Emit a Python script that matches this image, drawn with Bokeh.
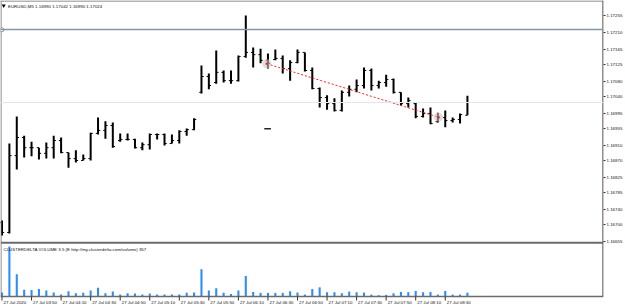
from bokeh.plotting import figure
from bokeh.models import Range1d, FixedTicker, Span, Label, PrintfTickFormatter
from bokeh.embed import file_html
from bokeh.resources import INLINE
from bokeh.core.properties import value

FONT = "Liberation Sans"
FS = "4.4px"

# ---- data (EURUSD M5, 27 Jul 2020, 03:30 .. 08:45) ----
bar_index = list(range(64))
opens = [1.16705, 1.16679, 1.16883, 1.16931, 1.16904, 1.16904, 1.16889, 1.16904, 1.16923, 1.16891,
         1.16875, 1.16870, 1.16875, 1.16942, 1.16950, 1.16963, 1.16923, 1.16926, 1.16926, 1.16904,
         1.16912, 1.16939, 1.16939, 1.16915, 1.16923, 1.16947, 1.16952, 1.17051, 1.17093, 1.17077,
         1.17104, 1.17082, 1.17082, 1.17146, 1.17157, 1.17151, 1.17136, 1.17138, 1.17141, 1.17114,
         1.17130, 1.17157, 1.17109, 1.17061, 1.17037, 1.17021, 1.17003, 1.17051, 1.17059, 1.17069,
         1.17109, 1.17069, 1.17077, 1.17085, 1.17051, 1.17021, 1.17021, 1.16987, 1.16995, 1.16973,
         1.16984, 1.16976, 1.16979, 1.16990]
highs = [1.16711, 1.16915, 1.16987, 1.16936, 1.16920, 1.16904, 1.16918, 1.16936, 1.16931, 1.16891,
         1.16897, 1.16886, 1.16944, 1.16984, 1.16974, 1.16971, 1.16942, 1.16942, 1.16928, 1.16918,
         1.16942, 1.16942, 1.16942, 1.16939, 1.16950, 1.16955, 1.16982, 1.17122, 1.17101, 1.17162,
         1.17109, 1.17109, 1.17149, 1.17255, 1.17170, 1.17167, 1.17154, 1.17165, 1.17149, 1.17136,
         1.17165, 1.17157, 1.17117, 1.17064, 1.17043, 1.17035, 1.17056, 1.17069, 1.17085, 1.17117,
         1.17114, 1.17082, 1.17098, 1.17088, 1.17051, 1.17037, 1.17024, 1.17008, 1.17011, 1.16997,
         1.17003, 1.16984, 1.16995, 1.17042]
lows = [1.16671, 1.16676, 1.16846, 1.16878, 1.16881, 1.16873, 1.16875, 1.16875, 1.16889, 1.16851,
        1.16865, 1.16870, 1.16870, 1.16939, 1.16928, 1.16904, 1.16920, 1.16923, 1.16902, 1.16897,
        1.16899, 1.16926, 1.16910, 1.16915, 1.16915, 1.16936, 1.16950, 1.17048, 1.17059, 1.17074,
        1.17077, 1.17074, 1.17080, 1.17143, 1.17117, 1.17128, 1.17114, 1.17136, 1.17101, 1.17082,
        1.17128, 1.17106, 1.17059, 1.17011, 1.17005, 1.17000, 1.17000, 1.17040, 1.17051, 1.17061,
        1.17056, 1.17061, 1.17066, 1.17048, 1.17016, 1.17011, 1.16982, 1.16984, 1.16966, 1.16971,
        1.16958, 1.16971, 1.16968, 1.16990]
closes = [1.16679, 1.16883, 1.16931, 1.16904, 1.16904, 1.16889, 1.16904, 1.16923, 1.16891, 1.16875,
          1.16870, 1.16875, 1.16942, 1.16950, 1.16963, 1.16907, 1.16926, 1.16926, 1.16904, 1.16912,
          1.16939, 1.16939, 1.16915, 1.16923, 1.16947, 1.16952, 1.16979, 1.17093, 1.17069, 1.17104,
          1.17082, 1.17082, 1.17146, 1.17157, 1.17151, 1.17136, 1.17128, 1.17141, 1.17114, 1.17130,
          1.17157, 1.17109, 1.17061, 1.17037, 1.17021, 1.17003, 1.17051, 1.17059, 1.17069, 1.17109,
          1.17069, 1.17077, 1.17085, 1.17051, 1.17021, 1.17029, 1.16987, 1.16995, 1.16968, 1.16984,
          1.16976, 1.16979, 1.16992, 1.17024]
volume = [370, 4672, 2080, 640, 610, 700, 550, 370, 180, 490,
          305, 340, 550, 825, 305, 460, 180, 305, 275, 180,
          275, 180, 180, 180, 180, 340, 370, 2540, 550, 765,
          340, 245, 550, 1925, 430, 340, 340, 340, 340, 490,
          370, 180, 700, 855, 400, 400, 305, 460, 400, 370,
          180, 120, 150, 305, 430, 400, 520, 400, 430, 180,
          520, 180, 180, 357]

time_tick_index = [0, 4, 8, 12, 16, 20, 24, 28, 32, 36, 40, 44, 48, 52, 56, 60]
time_tick_labels = ["27 Jul 2020", "27 Jul 03:50", "27 Jul 04:10", "27 Jul 04:30", "27 Jul 04:50",
                    "27 Jul 05:10", "27 Jul 05:30", "27 Jul 05:50", "27 Jul 06:10", "27 Jul 06:30",
                    "27 Jul 06:50", "27 Jul 07:10", "27 Jul 07:30", "27 Jul 07:50", "27 Jul 08:10",
                    "27 Jul 08:30"]
price_ticks = [1.17255, 1.17210, 1.17165, 1.17125, 1.17080, 1.17040, 1.16995, 1.16955,
               1.16910, 1.16870, 1.16825, 1.16785, 1.16740, 1.16700, 1.16655]

bid_price = 1.17024
hline_price = 1.17218
trend_x = [35.84, 59.08]
trend_price = [1.17127, 1.16985]
dash_x = [35.5, 36.4]
dash_price = [1.16954, 1.16954]

header = "EURUSD,M5  1.16990 1.17042 1.16990 1.17024"
vol_header = "CLUSTERDELTA VOLUME 3.5 (E http://my.clusterdelta.com/volume) 357"
vol_max = 4672

# ---- figure ----
p = figure(width=625, height=306, output_backend="svg", toolbar_location=None,
           x_range=Range1d(-0.2027, 81.42), y_range=Range1d(1.164824, 1.172948),
           x_axis_location=None, y_axis_location="right",
           min_border_left=0, min_border_right=21, min_border_top=0, min_border_bottom=0)
p.outline_line_color = None
p.grid.visible = False
p.background_fill_color = "white"
p.border_fill_color = "white"
p.extra_x_ranges = {"px": Range1d(0, 604)}
p.extra_y_ranges = {"px": Range1d(306, 0), "vol": Range1d(-934, 27658)}

ax = p.yaxis[0]
ax.ticker = FixedTicker(ticks=price_ticks)
ax.formatter = PrintfTickFormatter(format="%.5f")
ax.axis_line_color = None
ax.major_tick_in = 0
ax.major_tick_out = 2
ax.minor_tick_line_color = None
ax.major_tick_line_color = "#333333"
ax.major_label_standoff = 1
ax.major_label_text_font = FONT
ax.major_label_text_font_size = FS
ax.major_label_text_color = "#111111"

# horizontal lines
p.add_layout(Span(location=bid_price, dimension="width", line_color="#e6e6e6", line_width=1))
p.add_layout(Span(location=hline_price, dimension="width", line_color="#8796a5", line_width=1.6))

# OHLC bars
p.segment(x0=bar_index, y0=lows, x1=bar_index, y1=highs, line_color="black", line_width=2)
p.segment(x0=[i - 0.3 for i in bar_index], y0=opens, x1=bar_index, y1=opens,
          line_color="black", line_width=1)
p.segment(x0=bar_index, y0=closes, x1=[i + 0.3 for i in bar_index], y1=closes,
          line_color="black", line_width=1)

# trend line
p.line(trend_x, trend_price, line_color="#ff2020", line_width=1, line_dash="2 2")
p.scatter(trend_x, trend_price, size=9, fill_color="#c8c8c8", fill_alpha=0.6, line_color=None)
p.scatter(trend_x, trend_price, size=2.5, fill_color="#ff2020", line_color=None)
p.line(dash_x, dash_price, line_color="#222238", line_width=1.5)

# volume
p.vbar(x=bar_index, top=volume, bottom=0, width=0.28, y_range_name="vol",
       fill_color="#2a8cff", line_color=None)

# window frames (pixel coords)
p.segment(x0=[0, 0.5, 603.5, 0, 0, 0.5], y0=[0.5, 0, 0, 242.3, 296, 243],
          x1=[604, 0.5, 603.5, 604, 604, 0.5], y1=[0.5, 242, 296, 242.3, 296, 296],
          line_color="#6b6b6b", line_width=[1, 1, 1.5, 2, 1.5, 1],
          x_range_name="px", y_range_name="px")
p.scatter([1.5], [29.3], size=4, fill_color="white", line_color="#8796a5",
          x_range_name="px", y_range_name="px")

# time ticks and labels
p.segment(x0=time_tick_index, y0=[296] * len(time_tick_index), x1=time_tick_index,
          y1=[300] * len(time_tick_index), line_color="#333333", line_width=1, y_range_name="px")
p.text(x=time_tick_index, y=[301.5] * len(time_tick_index), text=time_tick_labels,
       x_offset=1.5, text_align="left", text_baseline="middle",
       text_font=value(FONT), text_font_size=FS, text_color="#111111", y_range_name="px")

# headers
p.scatter([3.2], [5.2], marker="inverted_triangle", size=4, fill_color="black", line_color=None,
          x_range_name="px", y_range_name="px")
p.text(x=[7.5], y=[5.5], text=[header], text_align="left", text_baseline="middle",
       text_font=value(FONT), text_font_size=FS, text_color="#111111",
       x_range_name="px", y_range_name="px")
p.text(x=[3], y=[248.5], text=[vol_header], text_align="left", text_baseline="middle",
       text_font=value(FONT), text_font_size=FS, text_color="#111111",
       x_range_name="px", y_range_name="px")

# right-side tags
p.add_layout(Label(x=605, y=246, x_range_name="px", y_range_name="px", text=str(vol_max),
                   text_font=FONT, text_font_size=FS, text_baseline="middle", text_color="#111111"))
p.add_layout(Label(x=605, y=293, x_range_name="px", y_range_name="px", text="0",
                   text_font=FONT, text_font_size=FS, text_baseline="middle", text_color="#111111"))
p.add_layout(Label(x=604.5, y=hline_price, x_range_name="px",
                   text=f"{hline_price:.5f}", text_font=FONT, text_font_size=FS,
                   text_baseline="middle", text_color="#1a1a1a",
                   background_fill_color="#9aa7b5", padding=1))
p.add_layout(Label(x=604.5, y=bid_price, x_range_name="px",
                   text=f"{bid_price:.5f}", text_font=FONT, text_font_size=FS,
                   text_baseline="middle", text_color="white",
                   background_fill_color="black", padding=1))

open("out.html", "w").write(file_html(p, INLINE))
